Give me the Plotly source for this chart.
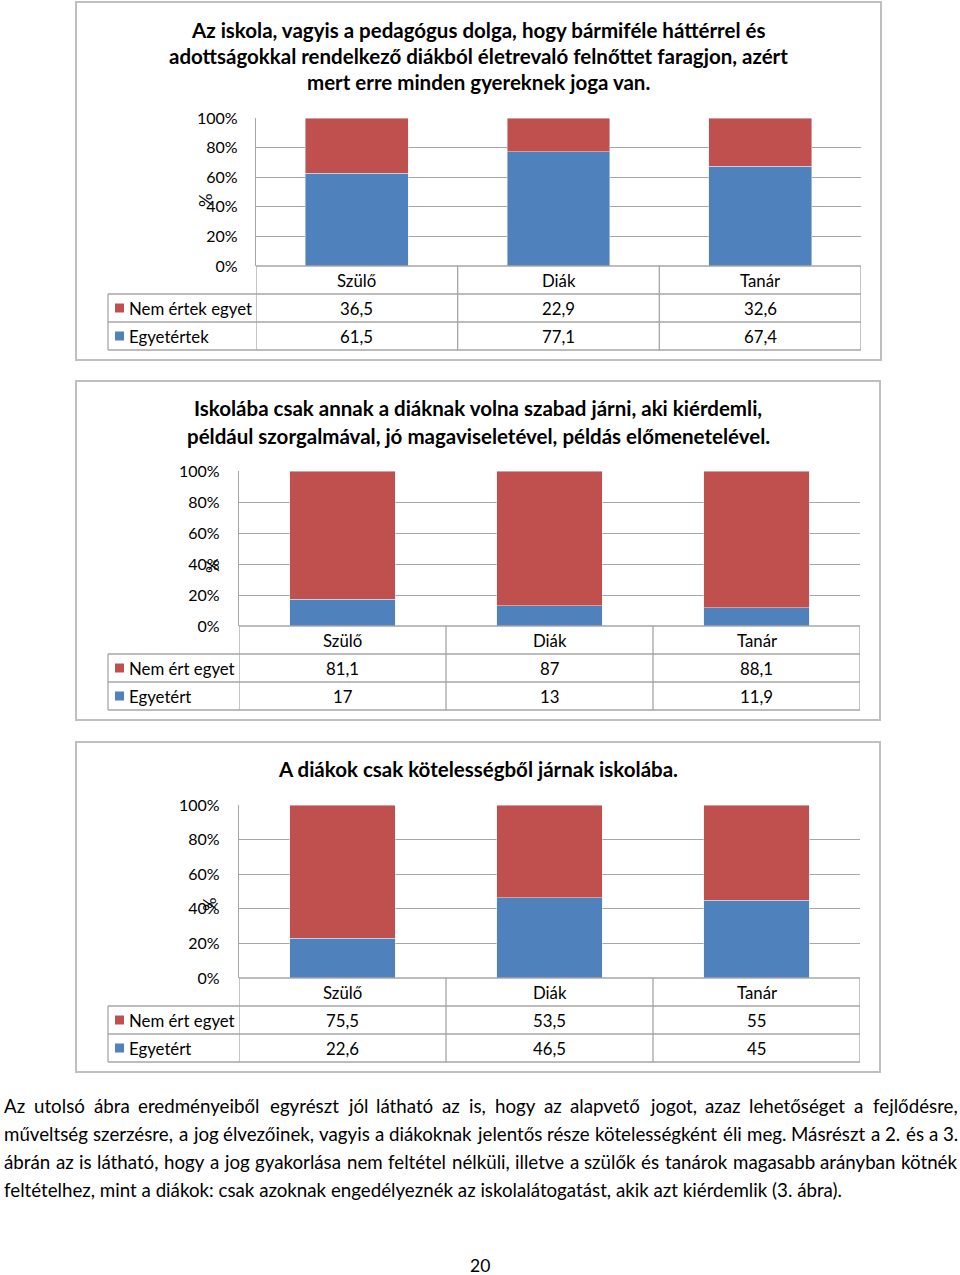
import glob
import os
import struct
import subprocess

import plotly.graph_objects as go

W, H = 960, 1275
FONT = "Lato"

categories = ["Szülő", "Diák", "Tanár"]

c1_title = ["Az iskola, vagyis a pedagógus dolga, hogy bármiféle háttérrel és",
            "adottságokkal rendelkező diákból életrevaló felnőttet faragjon, azért",
            "mert erre minden gyereknek joga van."]
c1_names = ["Nem értek egyet", "Egyetértek"]
c1_nem = [36.5, 22.9, 32.6]
c1_egy = [61.5, 77.1, 67.4]

c2_title = ["Iskolába csak annak a diáknak volna szabad járni, aki kiérdemli,",
            "például szorgalmával, jó magaviseletével, példás előmenetelével."]
c2_names = ["Nem ért egyet", "Egyetért"]
c2_nem = [81.1, 87, 88.1]
c2_egy = [17, 13, 11.9]

c3_title = ["A diákok csak kötelességből járnak iskolába."]
c3_names = ["Nem ért egyet", "Egyetért"]
c3_nem = [75.5, 53.5, 55]
c3_egy = [22.6, 46.5, 45]

tick_vals = [0, 20, 40, 60, 80, 100]
tick_text = ["0%", "20%", "40%", "60%", "80%", "100%"]

paragraph = [
    "Az utolsó ábra eredményeiből egyrészt jól látható az is, hogy az alapvető jogot, azaz lehetőséget a fejlődésre,",
    "műveltség szerzésre, a jog élvezőinek, vagyis a diákoknak jelentős része kötelességként éli meg. Másrészt a 2. és a 3.",
    "ábrán az is látható, hogy a jog gyakorlása nem feltétel nélküli, illetve a szülők és tanárok magasabb arányban kötnék",
    "feltételhez, mint a diákok: csak azoknak engedélyeznék az iskolalátogatást, akik azt kiérdemlik (3. ábra).",
]
page_number = "20"

RED = "#C0504D"
BLUE = "#4F81BD"
GRID = "#A6A6A6"
BORDER = "#BFBFBF"


# ---------- font metrics (for justified paragraph layout) ----------
def find_font_file():
    try:
        out = subprocess.run(["fc-match", "-f", "%{file}", "Lato:style=Regular"],
                             capture_output=True, text=True, timeout=10).stdout.strip()
        if out and os.path.exists(out) and "lato" in out.lower():
            return out
    except Exception:
        pass
    for pat in ["/usr/share/fonts/**/Lato-Regular.ttf", "/usr/share/fonts/**/Lato-Regular.otf",
                "/usr/local/share/fonts/**/Lato-Regular.ttf", "/usr/share/fonts/**/Lato*Regular*.ttf"]:
        g = glob.glob(pat, recursive=True)
        if g:
            return g[0]
    return None


def load_metrics(path):
    data = open(path, "rb").read()
    base = 0
    if data[:4] == b"ttcf":
        base = struct.unpack(">I", data[12:16])[0]
    num = struct.unpack(">H", data[base + 4:base + 6])[0]
    tables = {}
    for i in range(num):
        rec = data[base + 12 + 16 * i: base + 28 + 16 * i]
        tag = rec[:4].decode("latin1")
        off, ln = struct.unpack(">II", rec[8:16])
        tables[tag] = off
    upem = struct.unpack(">H", data[tables["head"] + 18:tables["head"] + 20])[0]
    nh = struct.unpack(">H", data[tables["hhea"] + 34:tables["hhea"] + 36])[0]
    hm = tables["hmtx"]
    adv = [struct.unpack(">H", data[hm + 4 * i:hm + 4 * i + 2])[0] for i in range(nh)]
    cm = tables["cmap"]
    ncm = struct.unpack(">H", data[cm + 2:cm + 4])[0]
    subs = {}
    for i in range(ncm):
        p, e, o = struct.unpack(">HHI", data[cm + 4 + 8 * i: cm + 12 + 8 * i])
        subs[(p, e)] = cm + o
    cmap = {}
    sub = subs.get((3, 10)) or subs.get((3, 1)) or subs.get((0, 4)) or subs.get((0, 3)) or next(iter(subs.values()))
    fmt_ = struct.unpack(">H", data[sub:sub + 2])[0]
    if fmt_ == 12:
        ng = struct.unpack(">I", data[sub + 12:sub + 16])[0]
        for g in range(ng):
            s, e, sg = struct.unpack(">III", data[sub + 16 + 12 * g: sub + 28 + 12 * g])
            if s > 0x2FFF:
                continue
            for c in range(s, min(e, 0x2FFF) + 1):
                cmap[c] = sg + (c - s)
    elif fmt_ == 4:
        segx2 = struct.unpack(">H", data[sub + 6:sub + 8])[0]
        seg = segx2 // 2
        ends = struct.unpack(">" + "H" * seg, data[sub + 14:sub + 14 + segx2])
        st = sub + 16 + segx2
        starts = struct.unpack(">" + "H" * seg, data[st:st + segx2])
        deltas = struct.unpack(">" + "h" * seg, data[st + segx2:st + 2 * segx2])
        ro_base = st + 2 * segx2
        ros = struct.unpack(">" + "H" * seg, data[ro_base:ro_base + segx2])
        for k in range(seg):
            for c in range(starts[k], ends[k] + 1):
                if c == 0xFFFF or c > 0x2FFF:
                    continue
                if ros[k] == 0:
                    gid = (c + deltas[k]) & 0xFFFF
                else:
                    addr = ro_base + 2 * k + ros[k] + 2 * (c - starts[k])
                    gid = struct.unpack(">H", data[addr:addr + 2])[0]
                    if gid:
                        gid = (gid + deltas[k]) & 0xFFFF
                cmap[c] = gid
    return upem, adv, cmap


try:
    _ff = find_font_file()
    _metrics = load_metrics(_ff) if _ff else None
except Exception:
    _metrics = None


def text_width(s, size):
    if _metrics is None:
        return len(s) * 0.5 * size
    upem, adv, cmap = _metrics
    tot = 0
    for ch in s:
        g = cmap.get(ord(ch), 0)
        tot += adv[g] if g < len(adv) else adv[-1]
    return tot / upem * size


# ---------- helpers ----------
def px(x):
    return x / W


def py(y):
    return 1 - y / H


fmt = lambda v: f"{v:g}".replace(".", ",")

charts = [
    dict(title=c1_title, names=c1_names, nem=c1_nem, egy=c1_egy,
         box=(76, 2, 881, 360), plot=(256, 118, 861, 266), tleft=108,
         title_y=[30, 56, 82], pct=(205, 200), tick_x=240),
    dict(title=c2_title, names=c2_names, nem=c2_nem, egy=c2_egy,
         box=(76, 381, 880, 720), plot=(239, 471, 860, 626), tleft=108,
         title_y=[408, 436], pct=(213, 566), tick_x=222),
    dict(title=c3_title, names=c3_names, nem=c3_nem, egy=c3_egy,
         box=(76, 742, 880, 1072), plot=(239, 805, 860, 978), tleft=108,
         title_y=[769], pct=(209, 904), tick_x=222),
]

fig = go.Figure()
shapes = []
annotations = []
ROW = 28
TFS = 16.8

for i, c in enumerate(charts, start=1):
    xa = "x" if i == 1 else f"x{i}"
    ya = "y" if i == 1 else f"y{i}"
    x0, y0, x1, y1 = c["plot"]
    fig.add_trace(go.Bar(x=categories, y=c["egy"], name=c["names"][1],
                         marker_color=BLUE, xaxis=xa, yaxis=ya, showlegend=False))
    fig.add_trace(go.Bar(x=categories, y=c["nem"], name=c["names"][0],
                         marker_color=RED, xaxis=xa, yaxis=ya, showlegend=False))
    xkey = "xaxis" if i == 1 else f"xaxis{i}"
    ykey = "yaxis" if i == 1 else f"yaxis{i}"
    fig.layout[xkey] = dict(domain=[px(x0), px(x1)], range=[-0.5, 2.5],
                            anchor=ya, showticklabels=False, showgrid=False,
                            showline=False, zeroline=False, fixedrange=True,
                            automargin=False)
    fig.layout[ykey] = dict(domain=[py(y1), py(y0)], range=[0, 100],
                            anchor=xa, tickvals=tick_vals, ticktext=tick_text,
                            showgrid=True, gridcolor=GRID, gridwidth=1.3,
                            showline=True, linecolor=GRID, linewidth=1.3,
                            zeroline=False, automargin=False,
                            ticklabelstandoff=x0 - c["tick_x"] - 2,
                            tickfont=dict(family=FONT, size=16, color="#000"))
    bx0, by0, bx1, by1 = c["box"]
    shapes.append(dict(type="rect", xref="paper", yref="paper",
                       x0=px(bx0), x1=px(bx1), y0=py(by1), y1=py(by0),
                       line=dict(color=BORDER, width=2), layer="below"))
    for line, ty in zip(c["title"], c["title_y"]):
        annotations.append(dict(xref="paper", yref="paper", x=px(478), y=py(ty),
                                text=f"<b>{line}</b>", showarrow=False,
                                font=dict(family=FONT, size=20.5, color="#000"),
                                xanchor="center", yanchor="middle"))
    annotations.append(dict(xref="paper", yref="paper", x=px(c["pct"][0]), y=py(c["pct"][1]),
                            text="%", textangle=-90, showarrow=False,
                            xanchor="center", yanchor="middle",
                            font=dict(family=FONT, size=17, color="#000")))
    tl = c["tleft"]
    t0 = y1
    rows = [t0, t0 + ROW, t0 + 2 * ROW, t0 + 3 * ROW]
    shapes.append(dict(type="line", xref="paper", yref="paper", x0=px(x0), x1=px(x1),
                       y0=py(rows[0]), y1=py(rows[0]), line=dict(color=GRID, width=1.3)))
    for r in rows[1:]:
        shapes.append(dict(type="line", xref="paper", yref="paper", x0=px(tl), x1=px(x1),
                           y0=py(r), y1=py(r), line=dict(color=GRID, width=1.3)))
    for b in [-0.5, 0.5, 1.5, 2.5]:
        shapes.append(dict(type="line", xref=xa, yref="paper", x0=b, x1=b,
                           y0=py(rows[3]), y1=py(rows[0]), line=dict(color=GRID, width=1.3)))
    shapes.append(dict(type="line", xref="paper", yref="paper", x0=px(tl), x1=px(tl),
                       y0=py(rows[3]), y1=py(rows[1]), line=dict(color=GRID, width=1.3)))
    for k, cat in enumerate(categories):
        annotations.append(dict(xref=xa, yref="paper", x=k, y=py(rows[0] + ROW / 2),
                                text=cat, showarrow=False, xanchor="center", yanchor="middle",
                                font=dict(family=FONT, size=TFS, color="#000")))
    for ri, (vals, name, col) in enumerate([(c["nem"], c["names"][0], RED),
                                            (c["egy"], c["names"][1], BLUE)]):
        yc = rows[1 + ri] + ROW / 2
        for k, v in enumerate(vals):
            annotations.append(dict(xref=xa, yref="paper", x=k, y=py(yc),
                                    text=fmt(v), showarrow=False,
                                    xanchor="center", yanchor="middle",
                                    font=dict(family=FONT, size=TFS, color="#000")))
        shapes.append(dict(type="rect", xref="paper", yref="paper",
                           x0=px(tl + 7), x1=px(tl + 16), y0=py(yc + 4.5), y1=py(yc - 4.5),
                           fillcolor=col, line=dict(width=0)))
        annotations.append(dict(xref="paper", yref="paper", x=px(tl + 19), y=py(yc),
                                text=name, showarrow=False, xanchor="left", yanchor="middle",
                                font=dict(family=FONT, size=TFS, color="#000")))

# ---------- paragraph (justified like the source page) ----------
PL, PR = 3, 957
PFS = 842 / max(text_width(paragraph[-1], 1.0), 1e-6)
PFS = min(max(PFS, 15), 20)
for li, (line, ly) in enumerate(zip(paragraph, [1106, 1134, 1162, 1190])):
    if li == len(paragraph) - 1:
        annotations.append(dict(xref="paper", yref="paper", x=px(PL - 1), y=py(ly),
                                text=line, showarrow=False, xanchor="left", yanchor="middle",
                                font=dict(family=FONT, size=PFS, color="#000")))
        continue
    words = line.split(" ")
    size = PFS
    ws = [text_width(w, size) for w in words]
    sp = text_width(" ", size)
    gap = (PR - PL - sum(ws)) / (len(words) - 1)
    if gap < 0.6 * sp:
        size = size * (PR - PL - 0.8 * sp * (len(words) - 1)) / sum(ws)
        ws = [text_width(w, size) for w in words]
        gap = (PR - PL - sum(ws)) / (len(words) - 1)
    xcur = PL
    for w, wd in zip(words, ws):
        annotations.append(dict(xref="paper", yref="paper", x=px(xcur - 1), y=py(ly),
                                text=w, showarrow=False, xanchor="left", yanchor="middle",
                                font=dict(family=FONT, size=size, color="#000")))
        xcur += wd + gap

annotations.append(dict(xref="paper", yref="paper", x=px(480), y=py(1265),
                        text=page_number, showarrow=False, xanchor="center", yanchor="middle",
                        font=dict(family=FONT, size=17.5, color="#000")))

fig.update_layout(width=W, height=H,
                  margin=dict(l=0, r=0, t=0, b=0, pad=0, autoexpand=False),
                  barmode="stack", barnorm="percent", bargap=0.49,
                  paper_bgcolor="white", plot_bgcolor="white",
                  shapes=shapes, annotations=annotations,
                  font=dict(family=FONT, color="#000"))

fig.write_html("out.html", config={"displayModeBar": False},
               post_script="document.body.style.margin='0';")
